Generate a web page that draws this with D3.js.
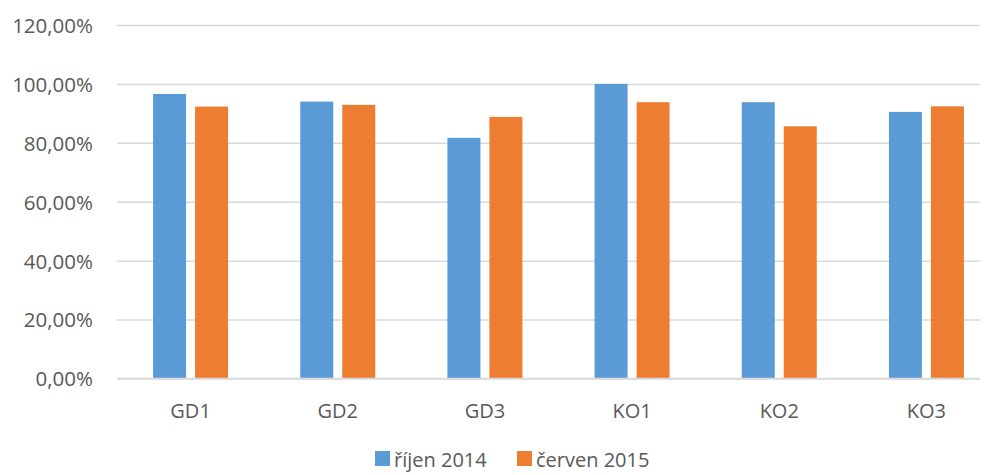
<!DOCTYPE html>
<html>
<head>
<meta charset="utf-8">
<script src="https://cdn.jsdelivr.net/npm/d3@7"></script>
<style>
    body { margin: 0; background: #fff; }
    text { font-family: "Open Sans", sans-serif; fill: #595959; }
    .axis .domain { display: none; }
    .y-axis line { stroke: #d9d9d9; stroke-width: 1.5; }
</style>
</head>
<body>
<svg id="chart"></svg>
<script>
// data
const categories = ['GD1', 'GD2', 'GD3', 'KO1', 'KO2', 'KO3'];
const seriesNames = ['říjen 2014', 'červen 2015'];
const rijen2014 = [0.966, 0.940, 0.817, 1.000, 0.938, 0.905];
const cerven2015 = [0.923, 0.929, 0.888, 0.938, 0.856, 0.924];
const yTicks = [0, 0.2, 0.4, 0.6, 0.8, 1.0, 1.2];
const colors = ['#5b9bd5', '#ed7d31'];

class BarChart {
    constructor(_config, _data) {
        this.config = {
            parentElement: _config.parentElement,
            containerWidth: _config.containerWidth || 995,
            containerHeight: _config.containerHeight || 475,
            margin: { top: 25, bottom: 96.5, right: 5, left: 117 }
        }
        this.data = _data;
        this.initVis();
    }
    initVis() {
        let vis = this;
        vis.width = vis.config.containerWidth - vis.config.margin.left - vis.config.margin.right;
        vis.height = vis.config.containerHeight - vis.config.margin.top - vis.config.margin.bottom;
        vis.gridWidth = vis.width - 10;

        vis.svg = d3.select(vis.config.parentElement)
            .attr('width', vis.config.containerWidth)
            .attr('height', vis.config.containerHeight);
        vis.chart = vis.svg.append('g')
            .attr('transform', `translate(${vis.config.margin.left},${vis.config.margin.top})`);

        vis.updateVis();
    }

    updateVis() {
        let vis = this;

        vis.xScale = d3.scaleBand()
            .domain(categories)
            .range([0, vis.width + 10]);
        vis.x1 = d3.scaleBand()
            .domain(seriesNames)
            .range([-37.5, 37.5])
            .paddingInner(9 / 42);
        vis.yScale = d3.scaleLinear()
            .domain([0, 1.2])
            .range([vis.height, 0]);

        const locale = d3.formatLocale({ decimal: ',', thousands: ' ', grouping: [3], currency: ['', ''] });
        const pct = locale.format('.2%');

        vis.yAxis = d3.axisLeft(vis.yScale)
            .tickValues(yTicks)
            .tickSize(-vis.gridWidth)
            .tickPadding(24)
            .tickFormat(pct);

        vis.yAxisG = vis.chart.append('g')
            .attr('class', 'axis y-axis')
            .call(vis.yAxis);
        vis.yAxisG.selectAll('text')
            .style('font-size', '20.5px')
            .attr('dy', '0.36em');

        // bars
        vis.groups = vis.chart.selectAll('.cat')
            .data(vis.data)
            .enter()
            .append('g')
            .attr('class', 'cat')
            .attr('transform', d => `translate(${vis.xScale(d.key) + vis.xScale.bandwidth() / 2},0)`);

        vis.groups.selectAll('.bar')
            .data(d => d.values)
            .enter()
            .append('rect')
            .attr('class', 'bar')
            .attr('fill', (s, i) => colors[i])
            .attr('x', s => vis.x1(s.series))
            .attr('y', s => vis.yScale(s.value))
            .attr('height', s => vis.height - vis.yScale(s.value))
            .attr('width', vis.x1.bandwidth());

        // x axis line + labels
        vis.chart.append('line')
            .attr('x1', 0)
            .attr('x2', vis.gridWidth)
            .attr('y1', vis.height)
            .attr('y2', vis.height)
            .attr('stroke', '#d9d9d9')
            .attr('stroke-width', 1.5);

        vis.chart.append('g')
            .attr('class', 'axis x-axis')
            .attr('transform', `translate(0,${vis.height})`)
            .call(d3.axisBottom(vis.xScale).tickSize(0).tickPadding(25))
            .selectAll('text')
            .style('font-size', '20px');

        // legend
        const legendX = [375, 517];
        vis.legend = vis.svg.append('g')
            .attr('class', 'legend')
            .selectAll('g')
            .data(seriesNames)
            .enter()
            .append('g')
            .attr('transform', (d, i) => `translate(${legendX[i]},451)`);
        vis.legend.append('rect')
            .attr('width', 15)
            .attr('height', 15)
            .attr('fill', (d, i) => colors[i]);
        vis.legend.append('text')
            .attr('x', 19)
            .attr('y', 15.5)
            .style('font-size', '20px')
            .text(d => d);
    }
}

let data = categories.map((c, i) => ({
    key: c,
    values: [
        { series: seriesNames[0], value: rijen2014[i] },
        { series: seriesNames[1], value: cerven2015[i] }
    ]
}));

let chart = new BarChart({ parentElement: '#chart' }, data);
</script>
</body>
</html>
